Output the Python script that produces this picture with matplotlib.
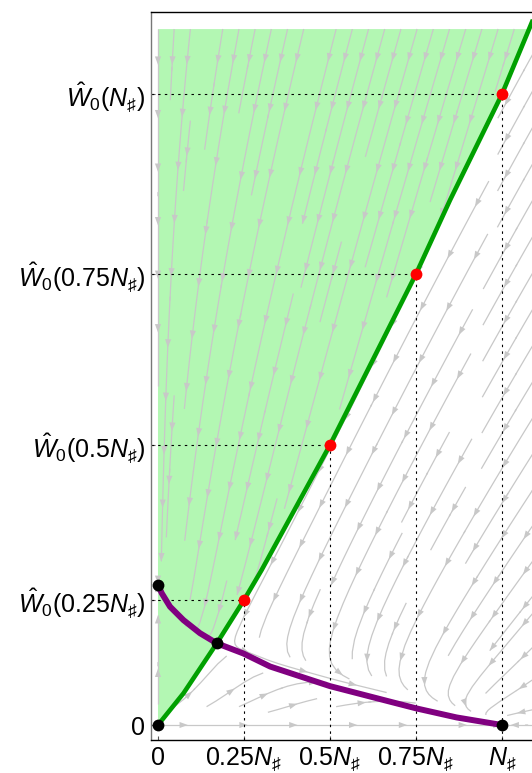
import numpy as np
import matplotlib.pyplot as plt
from matplotlib.patches import FancyArrowPatch

plt.rcParams['mathtext.fontset'] = 'custom'
plt.rcParams['mathtext.rm'] = 'Liberation Sans'
plt.rcParams['mathtext.it'] = 'Liberation Sans:italic'
plt.rcParams['font.family'] = ['Liberation Sans', 'DejaVu Sans']

# green boundary W0(N)
green_x = [0, 0.074, 0.171, 0.251, 0.301, 0.5, 0.75, 0.849, 1.0, 1.09]
green_y = [0, 0.092, 0.2375, 0.365, 0.45, 0.814, 1.311, 1.526, 1.834, 2.05]
fill_top = 2.023

# purple curve
purple_x = [0, 0.011, 0.035, 0.074, 0.122, 0.171, 0.248, 0.326, 0.5, 0.674, 0.75, 0.868, 1.0]
purple_y = [0.407, 0.383, 0.344, 0.305, 0.267, 0.2375, 0.208, 0.170, 0.113, 0.068, 0.0485, 0.022, 0.0]

# marked points
red_x = [0.25, 0.5, 0.75, 1.0]
red_y = [0.363, 0.814, 1.311, 1.834]
black_x = [0, 0, 0.171, 1.0]
black_y = [0, 0.407, 0.2375, 0]

xtick_labels = ['0', r'$0.25N_\sharp$', r'$0.5N_\sharp$', r'$0.75N_\sharp$', r'$N_\sharp$']
ytick_labels = ['0', r'$\hat{W}_0(0.25N_\sharp)$', r'$\hat{W}_0(0.5N_\sharp)$',
                r'$\hat{W}_0(0.75N_\sharp)$', r'$\hat{W}_0(N_\sharp)$']

# vector field parameters
a_par, k_par, x_saddle = 0.3, 0.5, 0.171
stream_color = '#c8c8c8'
arrow_gap = 55  # pixels between arrow heads along a stream line

fig = plt.figure(figsize=(5.32, 7.73), dpi=100)
ax = fig.add_axes([151 / 532, 33 / 773, 395.7 / 532, 728 / 773])
ax.set_xlim(-0.0203, 1.13)
ax.set_ylim(-0.0436, 2.0727)

# green feasible region
top_x = np.interp(fill_top, green_y, green_x)
px = [0] + [x for x, y in zip(green_x, green_y) if y < fill_top] + [top_x, 0]
py = [0] + [y for y in green_y if y < fill_top] + [fill_top, fill_top]
ax.fill(px, py, color='#b3f7b3', lw=0, zorder=0)

# stream lines: one field inside the green region, another outside
X, Y = np.meshgrid(np.linspace(0, 1.13, 150), np.linspace(0, fill_top, 260))
P = np.interp(X, purple_x, purple_y)
G = np.interp(X, green_x, green_y)
V = (P - Y) * Y / (Y + 0.15)
U_in = -0.35 * X / (X + 0.25) * (np.abs(Y - P) + 0.03)
U_out = a_par * (X - x_saddle) * (1 - X) - k_par * (Y - P)
U = np.where(Y > G, U_in, U_out)
strm = ax.streamplot(X, Y, U, V, density=(0.85, 1.3), color=stream_color, linewidth=0.9,
                     arrowstyle='-', zorder=1)

# arrow heads at regular spacing along each stream line
for seg in strm.lines.get_segments():
    c = np.asarray(seg)
    if len(c) < 2:
        continue
    d = ax.transData.transform(c)
    L = np.concatenate([[0], np.cumsum(np.hypot(*np.diff(d, axis=0).T))])
    if L[-1] < 20:
        continue
    for pos in np.arange(arrow_gap * 0.5, L[-1] - 5, arrow_gap):
        i = min(max(np.searchsorted(L, pos), 1), len(c) - 1)
        ax.add_patch(FancyArrowPatch(c[i - 1], c[i],
                                     arrowstyle='-|>,head_length=0.6,head_width=0.22',
                                     mutation_scale=10, color=stream_color, lw=0,
                                     shrinkA=0, shrinkB=0, zorder=1))

# guide lines
for x, y in zip(red_x, red_y):
    ax.plot([-0.0203, x], [y, y], color='black', lw=0.8, ls=(0, (2.2, 3.8)), zorder=2)
    ax.plot([x, x], [-0.0436, y], color='black', lw=0.8, ls=(0, (2.2, 3.8)), zorder=2)

ax.plot(green_x, green_y, color='#00a000', lw=3.3, zorder=3, solid_capstyle='butt')
ax.plot(purple_x, purple_y, color='#800080', lw=4.3, zorder=4)
ax.plot(red_x, red_y, 'o', color='red', ms=8.5, mec='none', zorder=5)
ax.plot(black_x, black_y, 'o', color='black', ms=8.5, mec='none', zorder=5)

ax.set_xticks([0] + red_x)
ax.set_xticklabels(xtick_labels)
ax.set_yticks([0] + red_y)
ax.set_yticklabels(ytick_labels)
ax.tick_params(direction='in', length=3, labelsize=18, pad=4, color='#555555')
ax.spines['left'].set_color('#777777')
for s in ax.spines.values():
    s.set_linewidth(1.0)

fig.savefig('out.png', dpi=100)
